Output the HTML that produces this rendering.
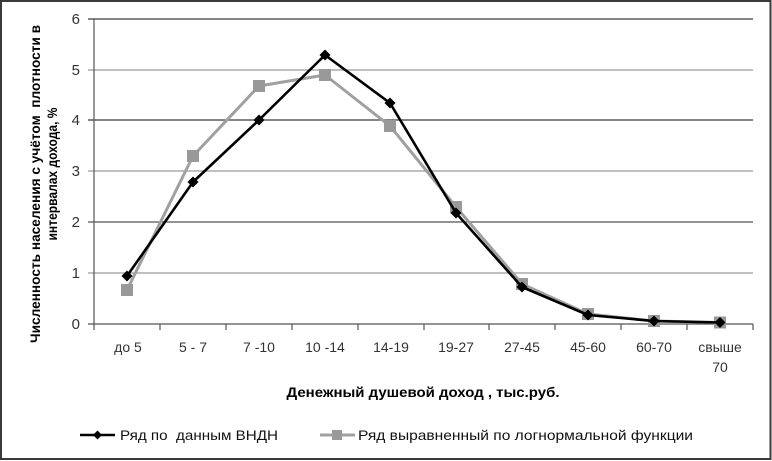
<!DOCTYPE html>
<html>
<head>
<meta charset="utf-8">
<style>
  html, body { margin: 0; padding: 0; background: #fff; }
  svg { display: block; }
  text { font-family: "Liberation Sans", "DejaVu Sans", sans-serif; }
</style>
</head>
<body>
<svg width="772" height="461" viewBox="0 0 772 461" xmlns="http://www.w3.org/2000/svg">
  <rect x="0" y="0" width="772" height="461" fill="#fff"/>
  <!-- outer border -->
  <rect x="1" y="1" width="769.5" height="458" fill="none" stroke="#3a3a3a" stroke-width="2"/>

  <!-- gridlines -->
  <g stroke-width="1.2">
    <line x1="88" y1="19" x2="753" y2="19" stroke="#3c3c3c"/>
    <line x1="88" y1="70" x2="753" y2="70" stroke="#9a9a9a"/>
    <line x1="88" y1="120" x2="753" y2="120" stroke="#3c3c3c"/>
    <line x1="88" y1="171" x2="753" y2="171" stroke="#9a9a9a"/>
    <line x1="88" y1="222" x2="753" y2="222" stroke="#555"/>
    <line x1="88" y1="273" x2="753" y2="273" stroke="#9a9a9a"/>
    <line x1="88" y1="324" x2="753" y2="324" stroke="#555"/>
  </g>
  <!-- y axis -->
  <line x1="94" y1="19" x2="94" y2="324" stroke="#555" stroke-width="1.2"/>
  <!-- x ticks -->
  <g stroke="#555" stroke-width="1.2">
    <line x1="94" y1="324" x2="94" y2="330"/>
    <line x1="160" y1="324" x2="160" y2="330"/>
    <line x1="226" y1="324" x2="226" y2="330"/>
    <line x1="292" y1="324" x2="292" y2="330"/>
    <line x1="358" y1="324" x2="358" y2="330"/>
    <line x1="424" y1="324" x2="424" y2="330"/>
    <line x1="489" y1="324" x2="489" y2="330"/>
    <line x1="555" y1="324" x2="555" y2="330"/>
    <line x1="621" y1="324" x2="621" y2="330"/>
    <line x1="687" y1="324" x2="687" y2="330"/>
    <line x1="753" y1="324" x2="753" y2="330"/>
  </g>

  <!-- y tick labels -->
  <g font-size="15" fill="#333" text-anchor="end">
    <text x="80" y="24">6</text>
    <text x="80" y="75">5</text>
    <text x="80" y="125">4</text>
    <text x="80" y="176">3</text>
    <text x="80" y="227">2</text>
    <text x="80" y="278">1</text>
    <text x="80" y="329">0</text>
  </g>

  <!-- x tick labels -->
  <g font-size="14" fill="#333" text-anchor="middle">
    <text x="128" y="352">до 5</text>
    <text x="193" y="352">5 - 7</text>
    <text x="259" y="352">7 -10</text>
    <text x="325" y="352">10 -14</text>
    <text x="391" y="352">14-19</text>
    <text x="456" y="352">19-27</text>
    <text x="522" y="352">27-45</text>
    <text x="588" y="352">45-60</text>
    <text x="654" y="352">60-70</text>
    <text x="720" y="352">свыше</text>
    <text x="720" y="372">70</text>
  </g>

  <!-- gray series (lognormal) -->
  <polyline fill="none" stroke="#a0a0a0" stroke-width="3" stroke-linejoin="round"
    points="127,290 193,156 259,86 325,75 390,126 456,207 522,284 588,314 654,321 720,322.5"/>
  <g fill="#999">
    <rect x="121" y="284" width="12" height="12"/>
    <rect x="187" y="150" width="12" height="12"/>
    <rect x="253" y="80" width="12" height="12"/>
    <rect x="319" y="69" width="12" height="12"/>
    <rect x="384" y="120" width="12" height="12"/>
    <rect x="450" y="201" width="12" height="12"/>
    <rect x="516" y="278" width="12" height="12"/>
    <rect x="582" y="308" width="12" height="12"/>
    <rect x="648" y="315" width="12" height="12"/>
    <rect x="714" y="316.5" width="12" height="12"/>
  </g>

  <!-- black series (VNDN) -->
  <polyline fill="none" stroke="#000" stroke-width="2.6" stroke-linejoin="round"
    points="127,276 193,182 259,120 325,55 390,103 456,213 522,287 588,315 654,321 720,322.5"/>
  <g fill="#000">
    <polygon points="127,270.5 132.5,276 127,281.5 121.5,276"/>
    <polygon points="193,176.5 198.5,182 193,187.5 187.5,182"/>
    <polygon points="259,114.5 264.5,120 259,125.5 253.5,120"/>
    <polygon points="325,49.5 330.5,55 325,60.5 319.5,55"/>
    <polygon points="390,97.5 395.5,103 390,108.5 384.5,103"/>
    <polygon points="456,207.5 461.5,213 456,218.5 450.5,213"/>
    <polygon points="522,281.5 527.5,287 522,292.5 516.5,287"/>
    <polygon points="588,309.5 593.5,315 588,320.5 582.5,315"/>
    <polygon points="654,315.5 659.5,321 654,326.5 648.5,321"/>
    <polygon points="720,317 725.5,322.5 720,328 714.5,322.5"/>
  </g>

  <!-- axis titles -->
  <text x="423" y="397" font-size="14" font-weight="bold" fill="#000" text-anchor="middle" textLength="273" lengthAdjust="spacingAndGlyphs">Денежный душевой доход , тыс.руб.</text>

  <text transform="translate(40,184) rotate(-90)" font-size="14" font-weight="bold" fill="#000" text-anchor="middle" style="white-space:pre" textLength="318" lengthAdjust="spacingAndGlyphs">Численность населения с учётом  плотности в</text>
  <text transform="translate(57,174) rotate(-90)" font-size="14" font-weight="bold" fill="#000" text-anchor="middle" textLength="133" lengthAdjust="spacingAndGlyphs">интервалах дохода, %</text>

  <!-- legend -->
  <line x1="80" y1="435" x2="115" y2="435" stroke="#000" stroke-width="2.6"/>
  <polygon points="97.5,430.5 102,435 97.5,439.5 93,435" fill="#000"/>
  <text x="120" y="440" font-size="14" fill="#111" style="white-space:pre" textLength="158" lengthAdjust="spacingAndGlyphs">Ряд по  данным ВНДН</text>

  <line x1="320" y1="435" x2="355" y2="435" stroke="#a0a0a0" stroke-width="3"/>
  <rect x="332" y="430" width="10" height="10" fill="#999"/>
  <text x="358" y="440" font-size="14" fill="#111" textLength="335" lengthAdjust="spacingAndGlyphs">Ряд выравненный по логнормальной функции</text>
</svg>
</body>
</html>
